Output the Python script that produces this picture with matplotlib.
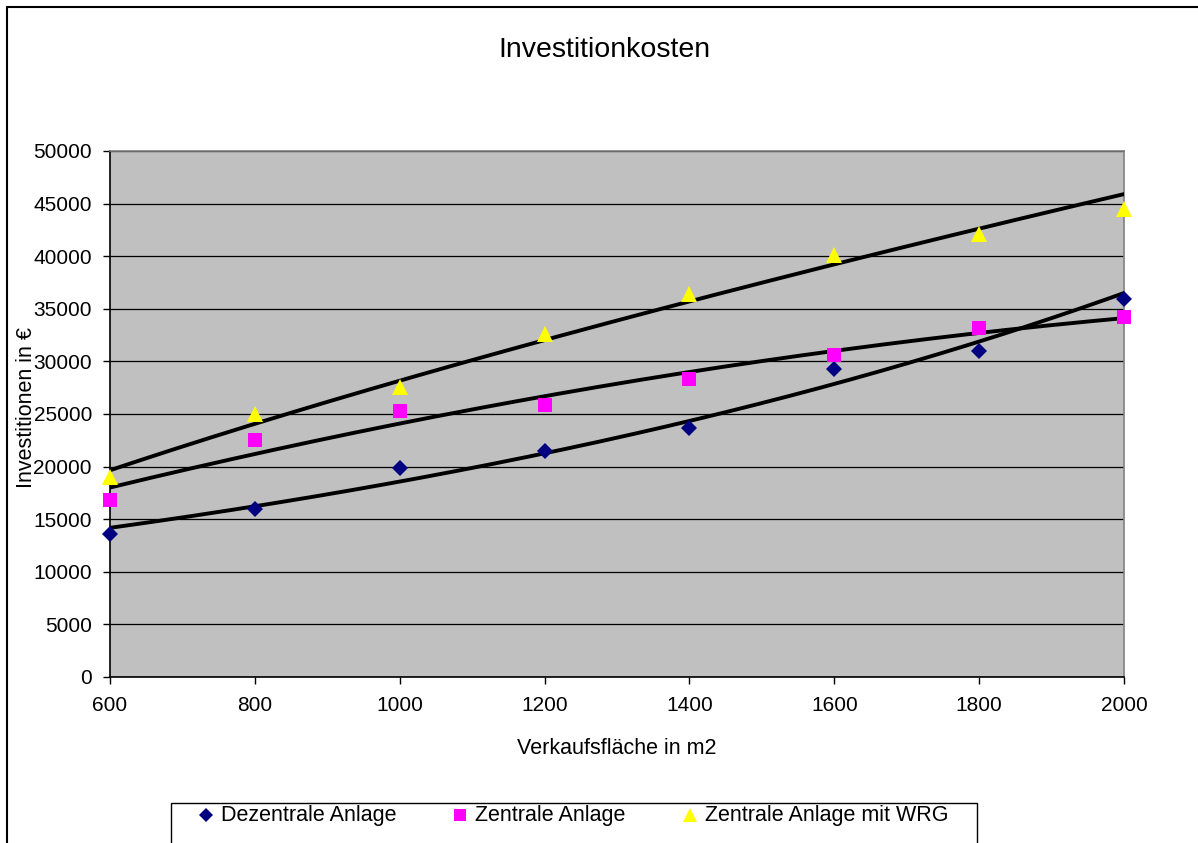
import matplotlib

matplotlib.use("Agg")
import matplotlib.pyplot as plt
import numpy as np
from matplotlib.lines import Line2D
from matplotlib.patches import Rectangle

plt.rcParams["font.family"] = ["Liberation Sans", "DejaVu Sans"]

flaeche = [600, 800, 1000, 1200, 1400, 1600, 1800, 2000]
dezentral = [13600, 16000, 19900, 21500, 23700, 29250, 30950, 35900]
zentral = [16850, 22550, 25250, 25850, 28300, 30600, 33150, 34250]
zentral_wrg = [19000, 25000, 27600, 32600, 36400, 40150, 42100, 44450]

# name, Werte, Trendlinien-Typ, Marker, Farbe, Markergröße
series = [
    ("Dezentrale Anlage", dezentral, "exp", "D", "#000080", 8.5),
    ("Zentrale Anlage", zentral, "poly2", "s", "#FF00FF", 10),
    ("Zentrale Anlage mit WRG", zentral_wrg, "power", "^", "#FFFF00", 11.5),
]


def trend(x, y, kind, xs):
    x, y = np.asarray(x, float), np.asarray(y, float)
    if kind == "exp":
        b, a = np.polyfit(x, np.log(y), 1)
        return np.exp(a + b * xs)
    if kind == "power":
        b, a = np.polyfit(np.log(x), np.log(y), 1)
        return np.exp(a) * xs ** b
    return np.polyval(np.polyfit(x, y, 2), xs)


W, H = 1198, 843
fig = plt.figure(figsize=(W / 100, H / 100), dpi=100)
ax = fig.add_axes([110 / W, 1 - 677 / H, (1124 - 110) / W, (677 - 151) / H])
ax.set_facecolor("#C0C0C0")

xs = np.linspace(600, 2000, 200)
for name, vals, kind, mk, col, ms in series:
    ax.plot(xs, trend(flaeche, vals, kind, xs), color="black", lw=2.8, zorder=3)
    ax.plot(flaeche, vals, ls="none", marker=mk, color=col, ms=ms,
            markeredgewidth=0, zorder=4, clip_on=False)

ax.set_xlim(600, 2000)
ax.set_ylim(0, 50000)
ax.set_xticks(range(600, 2001, 200))
ax.set_yticks(range(0, 50001, 5000))
ax.yaxis.grid(True, color="black", lw=0.9)
ax.set_axisbelow(True)
ax.tick_params(labelsize=15, direction="out", length=5, width=1)
ax.tick_params(axis="x", pad=9)
ax.tick_params(axis="y", pad=8)
for s in ("left", "bottom"):
    ax.spines[s].set_color("black")
    ax.spines[s].set_linewidth(1.2)
for s in ("top", "right"):
    ax.spines[s].set_color("#808080")
    ax.spines[s].set_linewidth(1.2)

fig.text(604 / W, 1 - 50 / H, "Investitionkosten", ha="center", va="center", fontsize=20.5)
fig.text(617 / W, 1 - 748 / H, "Verkaufsfläche in m2", ha="center", va="center", fontsize=15.5)
fig.text(27 / W, 1 - 408 / H, "Investitionen in €", ha="center", va="center",
         rotation=90, fontsize=15.5)

# äußerer Rahmen und Legendenrahmen
fig.add_artist(Rectangle((7 / W, -0.05), 1.1, 1.05 - 7 / H, transform=fig.transFigure,
                         fill=False, edgecolor="black", lw=1.5))
fig.add_artist(Rectangle((171 / W, -0.05), (977 - 171) / W, 0.05 + 1 - 803 / H,
                         transform=fig.transFigure, fill=False, edgecolor="black", lw=1))

# Legende von Hand, wie in Excel
leg_x = [206, 460, 690]
leg_y = 1 - 815 / H
for (name, vals, kind, mk, col, ms), lx in zip(series, leg_x):
    fig.add_artist(Line2D([lx / W], [leg_y], marker=mk, color=col, ls="none",
                          ms=ms * 0.85, markeredgewidth=0, transform=fig.transFigure))
    fig.text((lx + 15) / W, leg_y, name, ha="left", va="center", fontsize=15.5)

fig.savefig("out.png", dpi=100)
